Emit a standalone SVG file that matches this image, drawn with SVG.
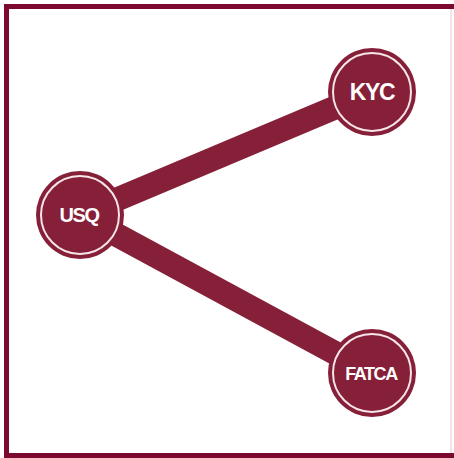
<svg xmlns="http://www.w3.org/2000/svg" width="454" height="458" viewBox="0 0 454 458">
<style>
.frame{fill:#7b0a2e}
.edge{stroke:#861f38;stroke-width:24;stroke-linecap:butt}
.node{fill:#861f38}
.ring{fill:none;stroke:#f6e6ea;stroke-width:2}
.lbl{fill:#ffffff;font-family:"Liberation Sans",Arial,sans-serif;font-weight:bold;text-anchor:middle;letter-spacing:-1.4px}
</style>
<rect width="454" height="458" fill="#ffffff"/>
<g id="frame">
<rect class="frame" x="4" y="4" width="450" height="5"/>
<rect class="frame" x="4" y="4" width="5" height="454"/>
<rect class="frame" x="4" y="453" width="450" height="5"/>
<rect x="450.5" y="9" width="1" height="444" fill="#e8c8d0"/>
</g>
<g id="connectors">
<line class="edge" x1="80" y1="215" x2="372" y2="92"/>
<line class="edge" x1="80" y1="215" x2="372" y2="373"/>
</g>
<g id="usq">
<circle class="node" cx="80" cy="215" r="44"/>
<circle class="ring" cx="80" cy="215" r="39"/>
<text class="lbl" x="79" y="222" font-size="20">USQ</text>
</g>
<g id="kyc">
<circle class="node" cx="372" cy="92" r="44"/>
<circle class="ring" cx="372" cy="92" r="39"/>
<text class="lbl" x="372" y="100" font-size="23">KYC</text>
</g>
<g id="fatca">
<circle class="node" cx="372" cy="373" r="44"/>
<circle class="ring" cx="372" cy="373" r="39"/>
<text class="lbl" x="371" y="380" font-size="18">FATCA</text>
</g>
</svg>
